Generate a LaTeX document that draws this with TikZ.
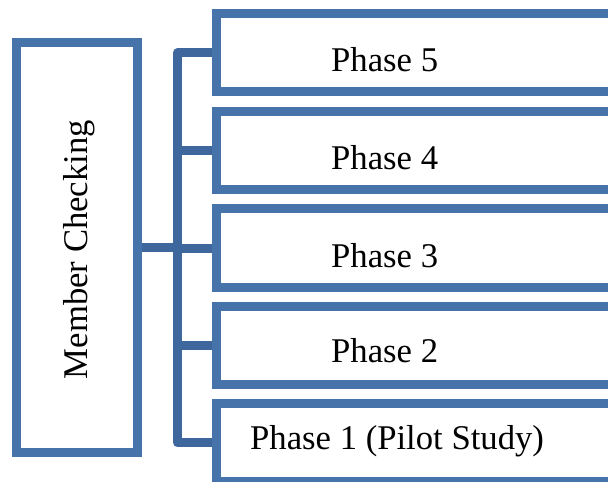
\documentclass[tikz,border=0pt]{standalone}
\usepackage{fontspec}
\setmainfont{Liberation Serif}
\usetikzlibrary{backgrounds}
\definecolor{boxblue}{RGB}{70,116,170}
\definecolor{busblue}{RGB}{62,104,157}
\begin{document}
\begin{tikzpicture}[x=1bp,y=-1bp,
  phasebox/.style={draw=boxblue, line width=9bp, rectangle, minimum width=434bp, minimum height=78bp, inner sep=0pt},
  mcbox/.style={draw=boxblue, line width=9bp, rectangle, minimum width=121bp, minimum height=409bp, inner sep=0pt},
  bus/.style={draw=busblue, line width=9bp, line join=round},
  lbl/.style={inner sep=0pt, font=\fontsize{34.8}{40}\selectfont}]
\useasboundingbox (0,0) rectangle (608,482);
\clip (0,0) rectangle (608,482);
\coordinate (busx) at (177.5,0);
\node[mcbox] (mc) at (77,247.5) {};
\node[phasebox] (p5) at (433,53) {};
\node[phasebox] (p4) at (433,151) {};
\node[phasebox] (p3) at (433,248) {};
\node[phasebox] (p2) at (433,345) {};
\node[phasebox] (p1) at (433,442.5) {};
\begin{scope}[on background layer]
\fill[white] (0,0) rectangle (608,482);
\draw[bus] (p5.west) -- (p5.west -| busx) -- (p1.west -| busx) -- (p1.west);
\draw[bus] (p4.west -| busx) -- (p4.west);
\draw[bus] (p3.west -| busx) -- (p3.west);
\draw[bus] (p2.west -| busx) -- (p2.west);
\draw[bus] (mc.east) -- (mc.east -| busx);
\end{scope}
\node[lbl, rotate=90, anchor=base] (mct) at (87,249.5) {Member Checking};
\node[lbl, anchor=base west] (t5) at (331,71.7) {Phase 5};
\node[lbl, anchor=base west] (t4) at (331,170) {Phase 4};
\node[lbl, anchor=base west] (t3) at (331,267) {Phase 3};
\node[lbl, anchor=base west] (t2) at (331,362.7) {Phase 2};
\node[lbl, anchor=base west] (t1) at (250,449.3) {Phase 1 (Pilot Study)};
\end{tikzpicture}
\end{document}
